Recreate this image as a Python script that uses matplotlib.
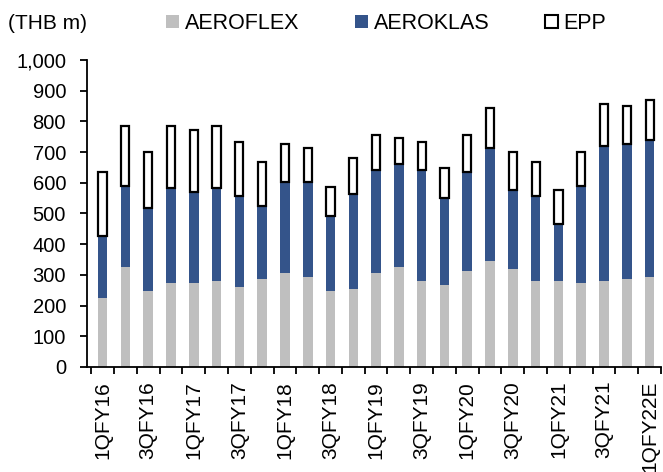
import numpy as np
import matplotlib.pyplot as plt
import matplotlib.patches as mpatches
from matplotlib.ticker import FixedLocator, FuncFormatter

plt.rcParams['font.family'] = ['Liberation Sans', 'DejaVu Sans']

quarters = ["1QFY16", "2QFY16", "3QFY16", "4QFY16",
            "1QFY17", "2QFY17", "3QFY17", "4QFY17",
            "1QFY18", "2QFY18", "3QFY18", "4QFY18",
            "1QFY19", "2QFY19", "3QFY19", "4QFY19",
            "1QFY20", "2QFY20", "3QFY20", "4QFY20",
            "1QFY21", "2QFY21", "3QFY21", "4QFY21",
            "1QFY22E"]
aeroflex = [224, 327, 249, 275, 275, 281, 262, 288, 307, 294, 249, 255, 307,
            327, 281, 268, 314, 346, 320, 281, 281, 275, 281, 288, 294]
aeroklas = [203, 263, 269, 308, 295, 302, 295, 236, 296, 309, 243, 309, 335,
            334, 361, 282, 321, 367, 257, 276, 185, 315, 439, 438, 445]
epp = [208, 195, 183, 202, 202, 202, 177, 144, 123, 110, 93, 118, 112,
       86, 92, 99, 119, 132, 124, 112, 111, 111, 138, 125, 132]

gray = "#BFBFBF"
blue = "#34548A"

x = np.arange(len(quarters))
aeroflex = np.array(aeroflex)
aeroklas = np.array(aeroklas)
epp = np.array(epp)

fig = plt.figure(figsize=(6.63, 4.72), dpi=100)
ax = fig.add_axes([0.131, 0.2225, 0.866, 0.6505])

ax.bar(x, aeroflex, width=0.42, color=gray, linewidth=0)
ax.bar(x, aeroklas, width=0.42, bottom=aeroflex, color=blue, linewidth=0)
ax.bar(x, epp, width=0.36, bottom=aeroflex + aeroklas, color="white",
       edgecolor="black", linewidth=1.6)

ax.set_xlim(-0.69, 24.5)
ax.set_ylim(0, 1000)
ax.set_yticks(np.arange(0, 1001, 100))
ax.yaxis.set_major_formatter(FuncFormatter(lambda v, p: "{:,.0f}".format(v)))

ax.set_xticks(x[::2])
ax.set_xticklabels(quarters[::2], rotation=90)
ax.xaxis.set_minor_locator(FixedLocator(np.arange(-0.5, 25, 1)))
ax.tick_params(axis="x", which="major", length=0, pad=10, labelsize=15)
ax.tick_params(axis="x", which="minor", length=5, width=1.3, direction="out")
ax.tick_params(axis="y", length=5, width=1.3, pad=10, labelsize=14.5)

for s in ["top", "right"]:
    ax.spines[s].set_visible(False)
for s in ["left", "bottom"]:
    ax.spines[s].set_linewidth(1.3)

fig.text(0.012, 0.95, "(THB m)", fontsize=15, va="center", ha="left")

h1 = mpatches.Patch(facecolor=gray, edgecolor="none", label="AEROFLEX")
h2 = mpatches.Patch(facecolor=blue, edgecolor="none", label="AEROKLAS")
h3 = mpatches.Patch(facecolor="white", edgecolor="black", linewidth=1.5, label="EPP")
fig.legend(handles=[h1, h2, h3], ncol=3, loc="center left",
           bbox_to_anchor=(0.251, 0.95), frameon=False, fontsize=15.5,
           handlelength=0.6, handleheight=0.6, handletextpad=0.25,
           columnspacing=2.6, borderaxespad=0, borderpad=0)

plt.savefig("out.png", dpi=100)
